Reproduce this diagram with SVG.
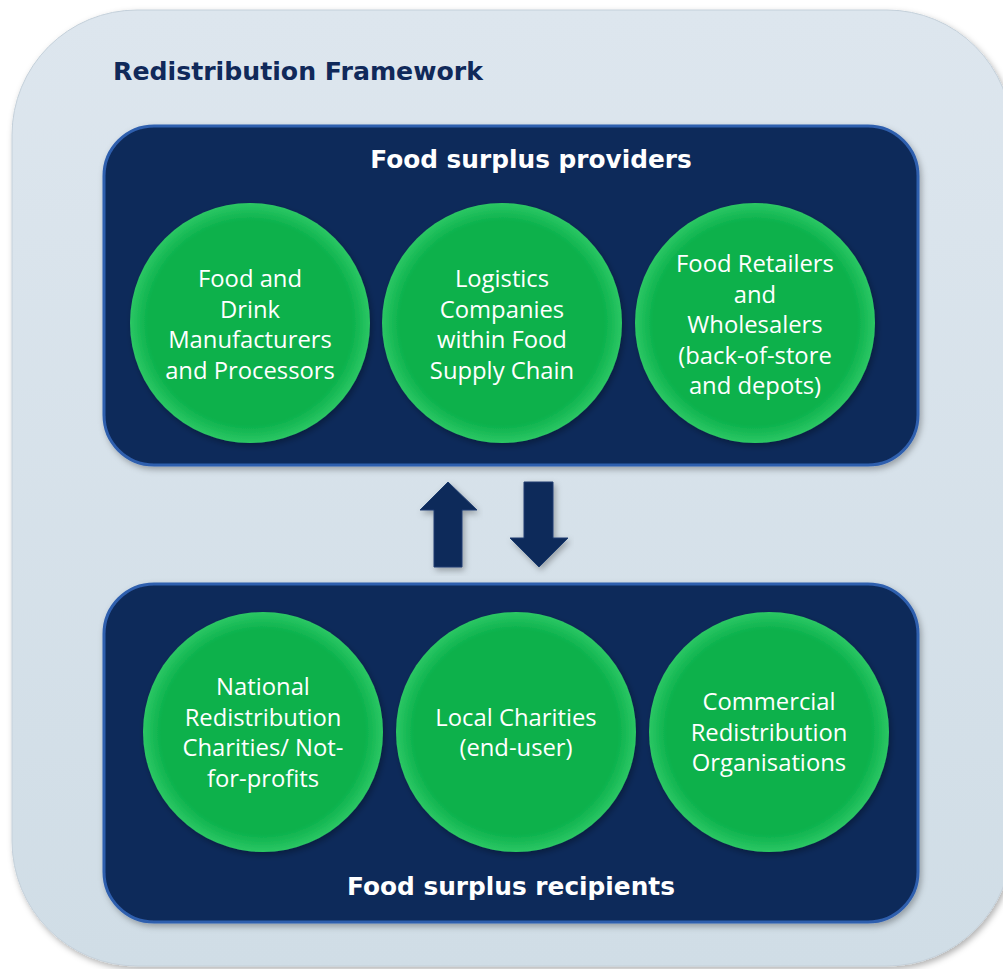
<svg xmlns="http://www.w3.org/2000/svg" width="1003" height="969" viewBox="0 0 1003 969">
<defs>
<style>
.title{font-family:"DejaVu Sans",Verdana,sans-serif;font-weight:bold;font-size:25.2px;fill:#10295a}
.ptitle{font-family:"DejaVu Sans",Verdana,sans-serif;font-weight:bold;font-size:24.8px;fill:#ffffff;text-anchor:middle}
.ctext{font-family:"Open Sans","DejaVu Sans",sans-serif;font-size:23.8px;fill:#ffffff;text-anchor:middle}
.panel{fill:#0f2a5a;stroke:#2f5fae;stroke-width:3}
.circle{fill:url(#g)}
.arrow{fill:#0f2a5a;stroke:#1e3d70;stroke-width:1}
</style>
<radialGradient id="g" cx="0.5" cy="0.5" r="0.5">
<stop offset="0.85" stop-color="#0bb14c"/>
<stop offset="1" stop-color="#2cc764"/>
</radialGradient>
<linearGradient id="bg" x1="0" y1="0" x2="0" y2="1">
<stop offset="0" stop-color="#dde6ee"/>
<stop offset="1" stop-color="#d0dde6"/>
</linearGradient>
<filter id="sh" x="-10%" y="-10%" width="120%" height="120%">
<feDropShadow dx="2" dy="3" stdDeviation="3" flood-color="#000" flood-opacity="0.3"/>
</filter>
</defs>
<rect width="1003" height="969" fill="#ffffff"/>
<g id="frame">
<rect x="12" y="10" width="1000" height="956" rx="125" fill="url(#bg)" stroke="#c4d0da" stroke-width="1" filter="url(#sh)"/>
<text class="title" x="113" y="80">Redistribution Framework</text>
</g>
<g id="providers">
<rect class="panel" x="104" y="126" width="814" height="339" rx="50" filter="url(#sh)"/>
<text class="ptitle" x="531" y="168">Food surplus providers</text>
</g>
<g id="recipients">
<rect class="panel" x="104" y="584" width="814" height="338" rx="50" filter="url(#sh)"/>
<text class="ptitle" x="511" y="895">Food surplus recipients</text>
</g>
<g id="c1">
<circle class="circle" cx="250" cy="323" r="120" filter="url(#sh)"/>
<text class="ctext" x="250" y="287">Food and</text>
<text class="ctext" x="250" y="317.5">Drink</text>
<text class="ctext" x="250" y="348">Manufacturers</text>
<text class="ctext" x="250" y="378.5">and Processors</text>
</g>
<g id="c2">
<circle class="circle" cx="502" cy="323" r="120" filter="url(#sh)"/>
<text class="ctext" x="502" y="287">Logistics</text>
<text class="ctext" x="502" y="317.5">Companies</text>
<text class="ctext" x="502" y="348">within Food</text>
<text class="ctext" x="502" y="378.5">Supply Chain</text>
</g>
<g id="c3">
<circle class="circle" cx="755" cy="323" r="120" filter="url(#sh)"/>
<text class="ctext" x="755" y="272">Food Retailers</text>
<text class="ctext" x="755" y="302.5">and</text>
<text class="ctext" x="755" y="333">Wholesalers</text>
<text class="ctext" x="755" y="363.5">(back-of-store</text>
<text class="ctext" x="755" y="394">and depots)</text>
</g>
<g id="c4">
<circle class="circle" cx="263" cy="732" r="120" filter="url(#sh)"/>
<text class="ctext" x="263" y="695">National</text>
<text class="ctext" x="263" y="725.5">Redistribution</text>
<text class="ctext" x="263" y="756">Charities/ Not-</text>
<text class="ctext" x="263" y="786.5">for-profits</text>
</g>
<g id="c5">
<circle class="circle" cx="516" cy="732" r="120" filter="url(#sh)"/>
<text class="ctext" x="516" y="725.5">Local Charities</text>
<text class="ctext" x="516" y="756">(end-user)</text>
</g>
<g id="c6">
<circle class="circle" cx="769" cy="732" r="120" filter="url(#sh)"/>
<text class="ctext" x="769" y="710">Commercial</text>
<text class="ctext" x="769" y="740.5">Redistribution</text>
<text class="ctext" x="769" y="771">Organisations</text>
</g>
<g id="connectors">
<polygon class="arrow" points="448,482 477,510 462,510 462,567 434,567 434,510 420,510" filter="url(#sh)"/>
<polygon class="arrow" points="524,482 553,482 553,538 568,538 539,567 510,538 524,538" filter="url(#sh)"/>
</g>
</svg>
